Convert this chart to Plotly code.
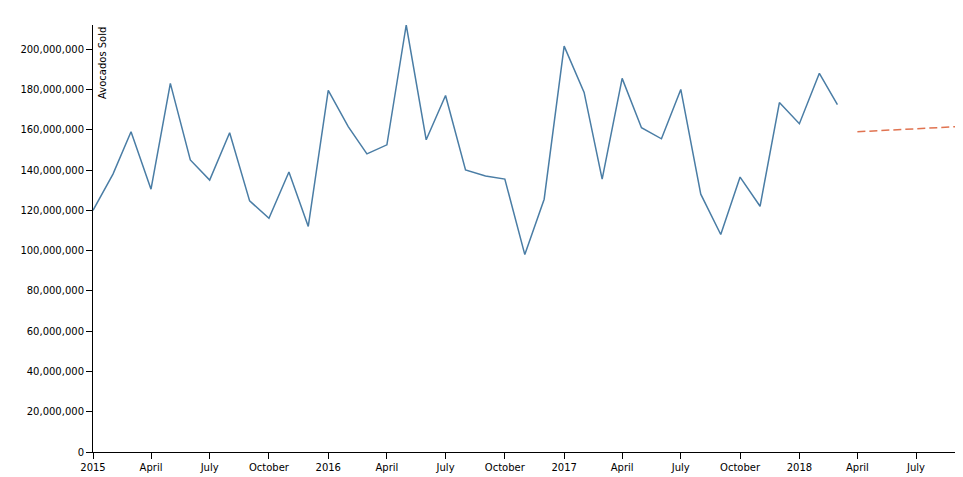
import plotly.graph_objects as go
import pandas as pd

months = pd.date_range("2015-01-01", "2018-03-01", freq="MS")
sold = [120, 138, 159, 130.5, 183, 145, 135, 158.5, 124.7, 116, 139, 112,
        179.5, 161.5, 148, 152.5, 212, 155, 177, 140, 137, 135.5, 98, 125.5,
        201.5, 178.5, 135.5, 185.5, 161, 155.5, 180, 128, 108, 136.5, 122, 173.5,
        163, 188, 172.5]
sold = [v * 1e6 for v in sold]

fc_dates = ["2018-04-01", "2018-09-01"]
fc_values = [159e6, 161.5e6]

tick_dates = pd.date_range("2015-01-01", "2018-07-01", freq="3MS")
tick_text = [str(d.year) if d.month == 1 else d.strftime("%B") for d in tick_dates]

y_ticks = list(range(0, 200000001, 20000000))

fig = go.Figure()
fig.add_trace(go.Scatter(x=months, y=sold, mode="lines",
                         line=dict(color="#4a7da5", width=1.5)))
fig.add_trace(go.Scatter(x=fc_dates, y=fc_values, mode="lines",
                         line=dict(color="#e07350", width=1.5, dash="8px,4px")))

fig.update_layout(
    width=963, height=477,
    margin=dict(l=73, r=15, t=17, b=27),
    plot_bgcolor="white", paper_bgcolor="white",
    showlegend=False,
    font=dict(family="DejaVu Sans, sans-serif", size=10, color="black"),
    xaxis=dict(range=["2015-01-01", "2018-09-01"], tickvals=tick_dates, ticktext=tick_text,
               showgrid=False, showline=True, linecolor="black", ticks="outside",
               ticklen=6, tickcolor="black", zeroline=False),
    yaxis=dict(range=[0, 212e6], tickvals=y_ticks, tickformat=",d",
               showgrid=False, showline=True, linecolor="black", ticks="outside",
               ticklen=6, tickcolor="black", zeroline=False),
    annotations=[dict(text="Avocados Sold", x=0, y=1, xref="paper", yref="paper",
                      xshift=9, textangle=-90, showarrow=False,
                      xanchor="center", yanchor="top", font=dict(size=10))],
)

fig.write_html("out.html")
